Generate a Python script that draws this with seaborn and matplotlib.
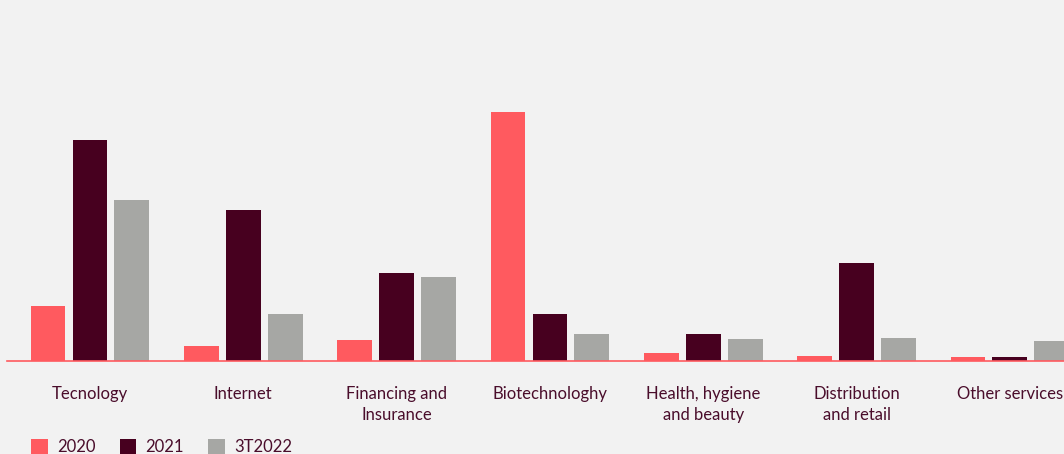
import matplotlib
matplotlib.use("Agg")
import matplotlib.pyplot as plt
import seaborn as sns
import pandas as pd

categories = ["Tecnology", "Internet", "Financing and\nInsurance", "Biotechnologhy",
              "Health, hygiene\nand beauty", "Distribution\nand retail", "Other services"]
series_names = ["2020", "2021", "3T2022"]
values_2020 = [55, 15, 21, 249, 8, 5, 4]
values_2021 = [221, 151, 88, 47, 27, 98, 4]
values_3t2022 = [161, 47, 84, 27, 22, 23, 20]

colors = ["#ff5a5f", "#47001f", "#a6a7a4"]
bg = "#f2f2f2"
text_color = "#4a0d2b"

rows = []
for name, vals in zip(series_names, [values_2020, values_2021, values_3t2022]):
    for c, v in zip(categories, vals):
        rows.append({"category": c, "series": name, "value": v})
df = pd.DataFrame(rows)

sns.set_theme(style="white")
plt.rcParams["font.family"] = ["Lato", "DejaVu Sans"]

fig = plt.figure(figsize=(10.64, 4.54), dpi=100, facecolor=bg)
ax = fig.add_axes([7 / 1064, 93 / 454, 1 - 7 / 1064, 361 / 454])
ax.set_facecolor(bg)

sns.barplot(data=df, x="category", y="value", hue="series", order=categories,
            hue_order=series_names, palette=colors, width=0.82, gap=0.17,
            saturation=1, linewidth=0, edgecolor="none", ax=ax, legend=False)

ax.set_xlim(-0.541, 6.353)
ax.set_ylim(0, 361)
for s in ["top", "right", "left"]:
    ax.spines[s].set_visible(False)
ax.spines["bottom"].set_color("#ff5a5f")
ax.spines["bottom"].set_linewidth(1.2)
ax.spines["bottom"].set_zorder(5)
ax.set_yticks([])
ax.set_xlabel("")
ax.set_ylabel("")
ax.tick_params(axis="x", length=0, pad=18, labelsize=12, labelcolor=text_color)
for lbl in ax.get_xticklabels():
    lbl.set_linespacing(1.35)

from matplotlib.patches import Patch
handles = [Patch(facecolor=c, edgecolor="none") for c in colors]
fig.legend(handles, series_names, loc="center left", bbox_to_anchor=(31 / 1064, 7 / 454),
           ncol=3, frameon=False, fontsize=12, labelcolor=text_color,
           handlelength=1.0, handleheight=1.0, handletextpad=0.55,
           columnspacing=1.45, borderpad=0, borderaxespad=0)

fig.savefig("out.png", dpi=100, facecolor=bg)
